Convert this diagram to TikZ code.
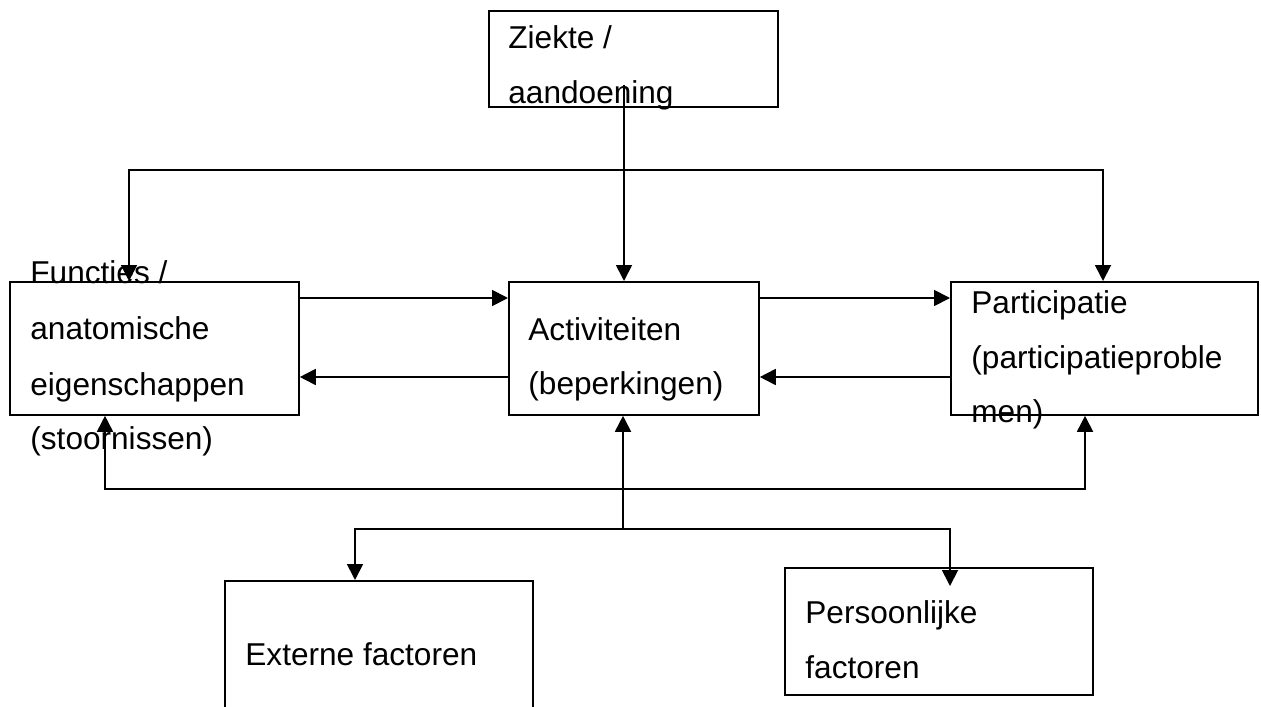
\documentclass[tikz,border=0pt]{standalone}
\usepackage{fontspec}
\setmainfont{Liberation Sans}
\usetikzlibrary{arrows.meta}
\begin{document}
\begin{tikzpicture}[x=0.5pt,y=-0.5pt,
  box/.style={draw=black,line width=0.9pt,inner sep=0pt,anchor=north west,fill=none},
  txt/.style={anchor=base west,inner sep=0pt,font=\fontsize{15.8}{27.5}\selectfont},
  conn/.style={draw=black,line width=0.9pt},
  arr/.style={conn,-{Triangle[length=8pt,width=8pt]}},
  arrs/.style={conn,{Triangle[length=8pt,width=8pt]}-{Triangle[length=8pt,width=8pt]}}]
\useasboundingbox (0,0) rectangle (1261,706);
\clip (0,0) rectangle (1261,706);
\fill[white] (0,0) rectangle (1261,706);
% boxes
\node[box,minimum width=144.5pt,minimum height=48pt] (zk) at (488,10) {};
\node[box,minimum width=144.5pt,minimum height=66.5pt] (fu) at (9,281) {};
\node[box,minimum width=125pt,minimum height=66.5pt] (ac) at (508,281) {};
\node[box,minimum width=153.5pt,minimum height=66.5pt] (pa) at (950,281) {};
\node[box,minimum width=154pt,minimum height=80pt] (ex) at (224,580) {};
\node[box,minimum width=154pt,minimum height=63.5pt] (pe) at (784,567) {};
% coordinates
\coordinate (zkx) at (624,85);
\coordinate (tl) at (129,170);
\coordinate (tr) at (1103,170);
\coordinate (yA) at (0,298);
\coordinate (yB) at (0,377);
\coordinate (bl) at (105,489);
\coordinate (br) at (1085,489);
\coordinate (cb) at (623,529);
\coordinate (el) at (355,529);
\coordinate (er) at (950,529);
\coordinate (pt) at (950,586);
% connectors
\draw[arr] (zkx) -- (zkx |- ac.north);
\draw[arrs] (tl |- fu.north) -- (tl) -- (tr) -- (tr |- pa.north);
\draw[arr] (fu.east |- yA) -- (ac.west |- yA);
\draw[arr] (ac.west |- yB) -- (fu.east |- yB);
\draw[arr] (ac.east |- yA) -- (pa.west |- yA);
\draw[arr] (pa.west |- yB) -- (ac.east |- yB);
\draw[arrs] (bl |- fu.south) -- (bl) -- (br) -- (br |- pa.south);
\draw[arr] (cb) -- (cb |- ac.south);
\draw[arrs] (el |- ex.north) -- (el) -- (er) -- (pt);
% texts
\node[txt] (t1) at (508,49) {Ziekte /};
\node[txt] (t2) at (508,104) {aandoening};
\node[txt] (t3) at (30,283) {Functies /};
\node[txt] (t4) at (30,339) {anatomische};
\node[txt] (t5) at (30,395) {eigenschappen};
\node[txt] (t6) at (30,449) {(stoornissen)};
\node[txt] (t7) at (528,340) {Activiteiten};
\node[txt] (t8) at (528,394) {(beperkingen)};
\node[txt] (t9) at (971,313) {Participatie};
\node[txt] (t10) at (971,368) {(participatieproble};
\node[txt] (t11) at (971,422) {men)};
\node[txt] (t12) at (245,665) {Externe factoren};
\node[txt] (t13) at (805,623) {Persoonlijke};
\node[txt] (t14) at (805,678) {factoren};
\end{tikzpicture}
\end{document}
